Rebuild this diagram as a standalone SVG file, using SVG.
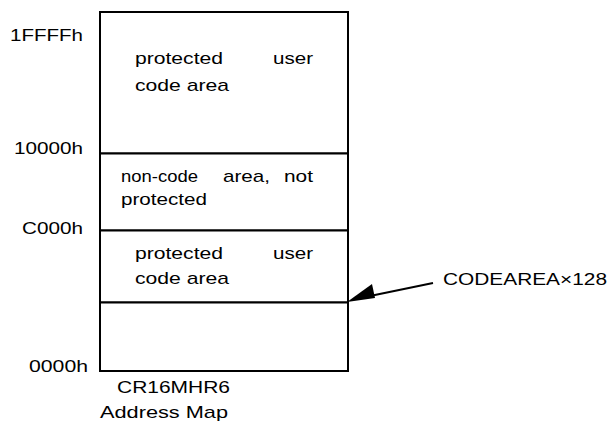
<svg xmlns="http://www.w3.org/2000/svg" width="609" height="423" viewBox="0 0 609 423">
<style>
text{font-family:"Liberation Sans",Arial,sans-serif;font-size:17px;fill:#000}
.box{fill:#fff;stroke:#000;stroke-width:2}
.ln{stroke:#000;stroke-width:2;fill:none}
</style>
<rect width="609" height="423" fill="#fff"/>
<g id="addr-labels">
<text x="83" y="40.5" text-anchor="end" textLength="73" lengthAdjust="spacingAndGlyphs">1FFFFh</text>
<text x="83" y="154" text-anchor="end" textLength="69" lengthAdjust="spacingAndGlyphs">10000h</text>
<text x="83" y="233.5" text-anchor="end" textLength="61" lengthAdjust="spacingAndGlyphs">C000h</text>
<text x="88" y="372" text-anchor="end" textLength="59" lengthAdjust="spacingAndGlyphs">0000h</text>
</g>
<g id="region-top">
<rect class="box" x="100" y="12" width="248" height="141.5"/>
<text x="135" y="63.5" textLength="88" lengthAdjust="spacingAndGlyphs">protected</text>
<text x="273" y="63.5" textLength="40" lengthAdjust="spacingAndGlyphs">user</text>
<text x="135" y="91" textLength="94" lengthAdjust="spacingAndGlyphs">code area</text>
</g>
<g id="region-noncode">
<rect class="box" x="100" y="153.5" width="248" height="77"/>
<text x="121" y="181.5" textLength="77" lengthAdjust="spacingAndGlyphs">non-code</text>
<text x="223" y="181.5" textLength="47" lengthAdjust="spacingAndGlyphs">area,</text>
<text x="284" y="181.5" textLength="29" lengthAdjust="spacingAndGlyphs">not</text>
<text x="121" y="205" textLength="86" lengthAdjust="spacingAndGlyphs">protected</text>
</g>
<g id="region-low">
<rect class="box" x="100" y="230.5" width="248" height="72"/>
<text x="135" y="258.5" textLength="88" lengthAdjust="spacingAndGlyphs">protected</text>
<text x="273" y="258.5" textLength="40" lengthAdjust="spacingAndGlyphs">user</text>
<text x="135" y="283.5" textLength="94" lengthAdjust="spacingAndGlyphs">code area</text>
</g>
<g id="region-bottom">
<rect class="box" x="100" y="302.5" width="248" height="68.5"/>
</g>
<g id="caption">
<text x="117" y="392.5" textLength="113" lengthAdjust="spacingAndGlyphs">CR16MHR6</text>
<text x="100" y="418" textLength="128" lengthAdjust="spacingAndGlyphs">Address Map</text>
</g>
<g id="connectors">
<line class="ln" x1="433" y1="283" x2="370" y2="296"/>
<polygon points="347,302 372,284 375,298" fill="#000"/>
</g>
<g id="codearea-label">
<text x="443" y="285" textLength="164" lengthAdjust="spacingAndGlyphs">CODEAREA×128</text>
</g>
</svg>
